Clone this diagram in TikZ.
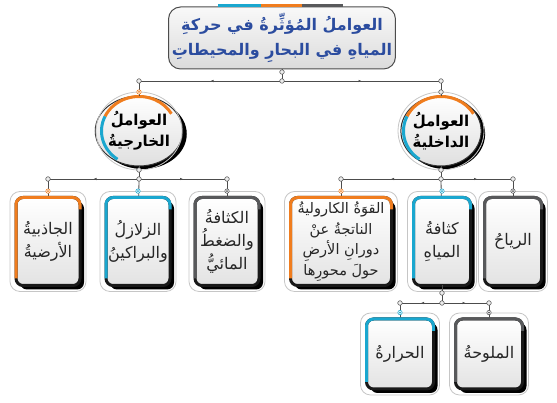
\documentclass[tikz,border=0pt]{standalone}
\usepackage{fontspec}
\newfontfamily\arabicfont[Script=Arabic]{DejaVu Sans}
\TeXXeTstate=1
\usetikzlibrary{shapes.geometric,shadows,fit,decorations.markings,arrows.meta}
\definecolor{cyanbar}{HTML}{1AA7CF}
\definecolor{orangebar}{HTML}{F07D1E}
\definecolor{graybar}{HTML}{58595B}
\definecolor{titleblue}{HTML}{2B4C9F}
\newcommand\ar[1]{\beginR #1\endR}
\tikzset{
  link/.style={draw=gray!60!black, line width=0.8pt},
  midtick/.style={postaction={decorate}, decoration={markings,
      mark=at position 0.5 with {\arrow{Latex[length=3pt,width=2.5pt]}}}},
  knob/.style={draw=gray!60!black, fill=gray!15, line width=0.5pt},
  card/.style={rectangle, rounded corners=7pt, draw=black!90, line width=3pt,
      top color=white, bottom color=gray!22, outer sep=0pt, inner sep=1pt,
      drop shadow={shadow xshift=4pt, shadow yshift=-4pt, fill=black, opacity=1},
      align=center, text=black!85, font=\arabicfont\fontsize{16}{23}\selectfont},
  frame/.style={draw=gray!45, line width=0.8pt, rounded corners=10pt, inner sep=6pt},
  bubble/.style={ellipse, draw=black!80, line width=1pt, top color=white,
      bottom color=gray!25, outer sep=0pt, inner sep=0pt,
      minimum width=76pt, minimum height=70pt,
      drop shadow={shadow xshift=4pt, shadow yshift=-3pt, fill=black, opacity=1},
      align=center, font=\arabicfont\bfseries\fontsize{15}{21}\selectfont},
}
\begin{document}
\begin{tikzpicture}[x=1pt,y=1pt]
\useasboundingbox (0,0) rectangle (557,403);
% title
\node [rectangle, rounded corners=12pt, draw=gray!60!black, line width=1pt,
  top color=gray!5, bottom color=gray!28, minimum width=207pt, minimum height=62pt,
  align=center, text=titleblue, font=\arabicfont\bfseries\fontsize{16}{25}\selectfont]
  (title) at (282,365) {\ar{العواملُ المُؤثِّرةُ في حركةِ}\\\ar{المياهِ في البحارِ والمحيطاتِ}};
\draw [cyanbar, line width=3.5pt] ([xshift=-64pt,yshift=1pt]title.north) -- ([xshift=-21pt,yshift=1pt]title.north);
\draw [orangebar, line width=3.5pt] ([xshift=-21pt,yshift=1pt]title.north) -- ([xshift=20pt,yshift=1pt]title.north);
\draw [graybar, line width=3.5pt] ([xshift=20pt,yshift=1pt]title.north) -- ([xshift=61pt,yshift=1pt]title.north);
%
\node [bubble] (outfac) at (139,272) {\ar{العواملُ}\\\ar{الخارجيةُ}};
\node [bubble] (infac) at (441,272) {\ar{العواملُ}\\\ar{الداخليةُ}};
\foreach \n in {outfac,infac} {
  \draw [gray!45, line width=0.8pt] (\n.center) ellipse [x radius=43pt, y radius=39pt];
  \draw [orangebar, line width=3pt] (\n.center) ++(155:37.5pt and 34.5pt)
    arc [start angle=155, end angle=30, x radius=37.5pt, y radius=34.5pt];
  \draw [cyanbar, line width=3pt] (\n.center) ++(155:37.5pt and 34.5pt)
    arc [start angle=155, end angle=235, x radius=37.5pt, y radius=34.5pt];
}
%
\node [card, minimum width=64pt, minimum height=88pt] (grav) at (48,161.5) {\ar{الجاذبيةُ}\\\ar{الأرضيةُ}};
\node [card, minimum width=64pt, minimum height=88pt] (quake) at (138,161.5) {\ar{الزلازلُ}\\\ar{والبراكينُ}};
\node [card, minimum width=64pt, minimum height=88pt] (press) at (227,161.5) {\ar{الكثافةُ}\\\ar{والضغطُ}\\\ar{المائيُّ}};
\node [card, minimum width=101pt, minimum height=88pt, font=\arabicfont\fontsize{14.5}{20.5}\selectfont] (cor) at (341,161.5)
  {\ar{القوَةُ الكاروليةُ}\\\ar{الناتجةُ عنْ}\\\ar{دورانِ الأرضِ}\\\ar{حولَ محورِها}};
\node [card, minimum width=57pt, minimum height=88pt] (wden) at (442,161.5) {\ar{كثافةُ}\\\ar{المياهِ}};
\node [card, minimum width=57pt, minimum height=88pt] (wind) at (513,161.5) {\ar{الرياحُ}};
\node [card, minimum width=67pt, minimum height=70pt] (heat) at (400,49) {\ar{الحرارةُ}};
\node [card, minimum width=67pt, minimum height=70pt] (salt) at (489,49) {\ar{الملوحةُ}};
%
\coordinate (j0) at (282,322);
\coordinate (jL) at (139,322);
\coordinate (jR) at (441,322);
\coordinate (kL) at (139,224);
\coordinate (kL1) at (48,224);
\coordinate (kL3) at (227,224);
\coordinate (kR) at (441,224);
\coordinate (kR1) at (341,224);
\coordinate (kR3) at (513,224);
\coordinate (m0) at (442,100);
\coordinate (m1) at (400,100);
\coordinate (m2) at (489,100);
%
\draw [link] (title) -- (j0);
\draw [link, midtick] (j0) -- (jL);
\draw [link, midtick] (j0) -- (jR);
\draw [link] (jL) -- (outfac);
\draw [link] (jR) -- (infac);
\draw [link] (outfac) -- (kL);
\draw [link] (infac) -- (kR);
\draw [link, midtick] (kL) -- (kL1);
\draw [link, midtick] (kL) -- (kL3);
\draw [link, midtick] (kR) -- (kR1);
\draw [link, midtick] (kR) -- (kR3);
\draw [link] (kL1) -- (grav);
\draw [link] (kL) -- (quake);
\draw [link] (kL3) -- (press);
\draw [link] (kR1) -- (cor);
\draw [link] (kR) -- (wden);
\draw [link] (kR3) -- (wind);
\draw [link] (wden) -- (m0);
\draw [link, midtick] (m0) -- (m1);
\draw [link, midtick] (m0) -- (m2);
\draw [link] (m1) -- (heat);
\draw [link] (m2) -- (salt);
%
\foreach \n/\c in {grav/orangebar, quake/cyanbar, press/graybar, cor/orangebar,
    wden/cyanbar, wind/graybar, heat/cyanbar, salt/graybar} {
  \node [frame, fit=(\n)] (\n f) {};
  \draw [\c, line width=3pt, rounded corners=7pt] ([yshift=7pt]\n.south west)
    -- (\n.north west) -- (\n.north east) -- ([yshift=-12pt]\n.north east);
  \draw [\c, fill=white, line width=0.6pt] (\n f.north) circle (2.2pt);
  \fill [\c] (\n f.north) circle (1pt);
}
\foreach \p in {(282,331),(j0),(jL),(jR),(441,311),(139,233),(441,233),
    (kL),(kL1),(kL3),(kR),(kR1),(kR3),(442,110),(m0),(m1),(m2)}
  \draw [knob] \p circle (2.3pt);
\draw [orangebar, fill=white, line width=0.6pt] (139,311) circle (2.2pt);
\fill [orangebar] (139,311) circle (1pt);
\end{tikzpicture}
\end{document}
